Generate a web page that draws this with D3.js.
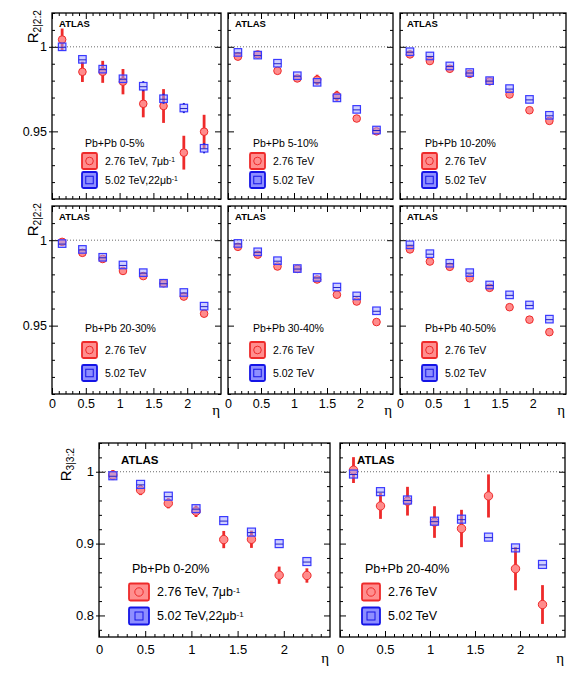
<!DOCTYPE html>
<html>
<head>
<meta charset="utf-8">
<script src="https://cdn.jsdelivr.net/npm/d3@7"></script>
<style>
body { margin: 0; background: #fff; }
svg { font-family: "Liberation Sans", Arial, Helvetica, sans-serif; }
</style>
</head>
<body>
<svg id="chart" width="569" height="680"></svg>
<script>
/* data */
var eta = [0.15, 0.45, 0.75, 1.05, 1.35, 1.65, 1.95, 2.25];
var xTicks = [0, 0.5, 1, 1.5, 2];
var yTicks22 = [0.95, 1];
var yTicks33 = [0.8, 0.9, 1];

var cent22 = ["0-5%", "5-10%", "10-20%", "20-30%", "30-40%", "40-50%"];
var cent33 = ["0-20%", "20-40%"];

var r22_276 = [
  [1.0043, 0.9852, 0.9852, 0.9794, 0.9663, 0.9650, 0.9374, 0.9498],
  [0.9942, 0.9955, 0.9858, 0.9813, 0.9805, 0.9710, 0.9576, 0.9500],
  [0.9955, 0.9916, 0.9870, 0.9840, 0.9796, 0.9718, 0.9625, 0.9562],
  [0.9990, 0.9926, 0.9890, 0.9820, 0.9790, 0.9748, 0.9670, 0.9570],
  [0.9961, 0.9915, 0.9846, 0.9832, 0.9770, 0.9681, 0.9641, 0.9521],
  [0.9946, 0.9875, 0.9844, 0.9777, 0.9721, 0.9608, 0.9535, 0.9462]
];
var r22_276_err = [
  [0.0065, 0.006, 0.0065, 0.0075, 0.008, 0.010, 0.010, 0.010],
  [0.0015, 0.0015, 0.0015, 0.002, 0.003, 0.003, 0.002, 0.002],
  [0.001, 0.001, 0.001, 0.001, 0.001, 0.001, 0.001, 0.001],
  [0.001, 0.001, 0.001, 0.001, 0.001, 0.001, 0.001, 0.001],
  [0.001, 0.001, 0.001, 0.001, 0.001, 0.001, 0.001, 0.001],
  [0.001, 0.001, 0.001, 0.001, 0.0015, 0.002, 0.002, 0.002]
];
var r22_502 = [
  [1.0000, 0.9926, 0.9868, 0.9811, 0.9767, 0.9693, 0.9638, 0.9400],
  [0.9967, 0.9951, 0.9903, 0.9829, 0.9790, 0.9698, 0.9630, 0.9508],
  [0.9971, 0.9946, 0.9887, 0.9848, 0.9800, 0.9753, 0.9689, 0.9595],
  [0.9980, 0.9946, 0.9900, 0.9855, 0.9810, 0.9748, 0.9694, 0.9614],
  [0.9981, 0.9932, 0.9880, 0.9834, 0.9782, 0.9726, 0.9674, 0.9587],
  [0.9973, 0.9921, 0.9865, 0.9810, 0.9738, 0.9680, 0.9621, 0.9538]
];
var r22_502_err = [
  [0.001, 0.001, 0.002, 0.002, 0.003, 0.003, 0.003, 0.003],
  [0.001, 0.001, 0.001, 0.001, 0.001, 0.001, 0.001, 0.001],
  [0.001, 0.001, 0.001, 0.001, 0.001, 0.001, 0.001, 0.001],
  [0.001, 0.001, 0.001, 0.001, 0.001, 0.001, 0.001, 0.001],
  [0.001, 0.001, 0.001, 0.001, 0.001, 0.001, 0.001, 0.001],
  [0.001, 0.001, 0.001, 0.001, 0.001, 0.001, 0.001, 0.001]
];

var r33_276 = [
  [0.9954, 0.9745, 0.9560, 0.9450, 0.9056, 0.9060, 0.8560, 0.8556],
  [1.0023, 0.9524, 0.9590, 0.9300, 0.9210, 0.9663, 0.8650, 0.8152]
];
var r33_276_err = [
  [0.007, 0.007, 0.007, 0.008, 0.012, 0.012, 0.012, 0.010],
  [0.018, 0.018, 0.020, 0.022, 0.026, 0.030, 0.030, 0.027]
];
var r33_502 = [
  [0.9944, 0.9824, 0.9660, 0.9486, 0.9320, 0.9160, 0.9000, 0.8750],
  [0.9968, 0.9723, 0.9607, 0.9312, 0.9340, 0.9090, 0.8940, 0.8710]
];
var r33_502_err = [
  [0.002, 0.002, 0.002, 0.003, 0.002, 0.003, 0.002, 0.002],
  [0.003, 0.002, 0.003, 0.004, 0.004, 0.004, 0.004, 0.004]
];

var svg = d3.select("#chart");
var RED = "#ee2a2a", RED_FILL = "#ff8c8c";
var BLUE = "#3a3aff", BLUE_FILL = "rgba(160,160,255,0.5)";

function fmt(d) { return String(+d.toFixed(2)); }

function sideAxis(g, gen, values, size) {
  g.call(gen.tickValues(values).tickSize(size).tickFormat(""));
  g.select(".domain").remove();
  g.selectAll("line").attr("stroke", "#000").attr("stroke-width", 1);
}

// one panel: frame, ticks, points, legend
function panel(p) {
  var w = p.x1 - p.x0, h = p.y1 - p.y0;
  var g = svg.append("g").attr("transform", "translate(" + p.x0 + "," + p.y0 + ")");
  var x = d3.scaleLinear().domain([0, 2.5]).range([0, w]);
  var y = d3.scaleLinear().domain(p.yDom).range([h, 0]);

  var xMinor = d3.range(0, 25).map(function (i) { return i / 10; }).filter(function (v) { return xTicks.indexOf(v) < 0; });
  var yMinor = d3.range(Math.ceil(p.yDom[0] / p.yMinor), Math.floor(p.yDom[1] / p.yMinor) + 1)
    .map(function (i) { return +(i * p.yMinor).toFixed(3); })
    .filter(function (v) { return p.yMajor.indexOf(v) < 0; });

  // inward ticks on four sides
  sideAxis(g.append("g").attr("transform", "translate(0," + h + ")"), d3.axisBottom(x), xTicks, -6);
  sideAxis(g.append("g").attr("transform", "translate(0," + h + ")"), d3.axisBottom(x), xMinor, -3);
  sideAxis(g.append("g"), d3.axisTop(x), xTicks, -6);
  sideAxis(g.append("g"), d3.axisTop(x), xMinor, -3);
  sideAxis(g.append("g"), d3.axisLeft(y), p.yMajor, -6);
  sideAxis(g.append("g"), d3.axisLeft(y), yMinor, -3);
  sideAxis(g.append("g").attr("transform", "translate(" + w + ",0)"), d3.axisRight(y), p.yMajor, -6);
  sideAxis(g.append("g").attr("transform", "translate(" + w + ",0)"), d3.axisRight(y), yMinor, -3);

  if (p.yLabels) {
    var ya = g.append("g").call(d3.axisLeft(y).tickValues(p.yMajor).tickSize(3).tickPadding(2).tickFormat(fmt));
    ya.select(".domain").remove();
    ya.selectAll("line").attr("stroke", "#000");
    ya.selectAll("text").attr("font-size", p.tickFont).attr("fill", "#000").attr("font-family", null);
  }
  if (p.xLabels) {
    var xa = g.append("g").attr("transform", "translate(0," + h + ")")
      .call(d3.axisBottom(x).tickValues(xTicks).tickSize(0).tickPadding(p.xPad).tickFormat(fmt));
    xa.select(".domain").remove();
    xa.selectAll("text").attr("font-size", p.tickFont).attr("fill", "#000").attr("font-family", null);
    g.append("text").attr("x", w - 1).attr("y", h + p.etaDy)
      .attr("text-anchor", "end").attr("font-size", 15)
      .attr("font-family", "'Liberation Serif', 'DejaVu Serif', serif").text("η");
  }

  // reference line at 1
  g.append("line").attr("x1", 0).attr("x2", w).attr("y1", y(1)).attr("y2", y(1))
    .attr("stroke", "#444").attr("stroke-width", 0.8).attr("stroke-dasharray", "1,2");

  var red = eta.map(function (e, i) { return { e: e, v: p.red[i], err: p.redErr[i] }; });
  var blue = eta.map(function (e, i) { return { e: e, v: p.blue[i], err: p.blueErr[i] }; });
  var rr = p.r, hs = p.sq / 2;

  g.selectAll(".rbar").data(red).enter().append("line")
    .attr("x1", function (d) { return x(d.e); }).attr("x2", function (d) { return x(d.e); })
    .attr("y1", function (d) { return y(d.v + d.err); }).attr("y2", function (d) { return y(d.v - d.err); })
    .attr("stroke", RED).attr("stroke-width", 2.8);
  g.selectAll(".rpt").data(red).enter().append("circle")
    .attr("cx", function (d) { return x(d.e); }).attr("cy", function (d) { return y(d.v); })
    .attr("r", rr).attr("fill", RED_FILL).attr("stroke", RED).attr("stroke-width", 1);

  g.selectAll(".bpt").data(blue).enter().append("rect")
    .attr("x", function (d) { return x(d.e) - hs; }).attr("y", function (d) { return y(d.v) - hs; })
    .attr("width", p.sq).attr("height", p.sq)
    .attr("fill", BLUE_FILL).attr("stroke", BLUE).attr("stroke-width", 1.2);
  g.selectAll(".bmid").data(blue).enter().append("line")
    .attr("x1", function (d) { return x(d.e) - hs; }).attr("x2", function (d) { return x(d.e) + hs; })
    .attr("y1", function (d) { return y(d.v) + 0.5; }).attr("y2", function (d) { return y(d.v) + 0.5; })
    .attr("stroke", "#2424c8").attr("stroke-width", 1);
  g.selectAll(".bbar").data(blue.filter(function (d) { return y(d.v - d.err) - y(d.v + d.err) > p.sq; }))
    .enter().append("g").each(function (d) {
      var s = d3.select(this);
      s.append("line").attr("x1", x(d.e)).attr("x2", x(d.e)).attr("y1", y(d.v + d.err)).attr("y2", y(d.v) - hs)
        .attr("stroke", "#2020d0").attr("stroke-width", 2);
      s.append("line").attr("x1", x(d.e)).attr("x2", x(d.e)).attr("y1", y(d.v) + hs).attr("y2", y(d.v - d.err))
        .attr("stroke", "#2020d0").attr("stroke-width", 2);
    });

  // frame
  g.append("rect").attr("width", w).attr("height", h).attr("fill", "none")
    .attr("stroke", "#000").attr("stroke-width", 1.3);

  g.append("text").attr("x", p.atlas[0]).attr("y", p.atlas[1]).attr("font-weight", "bold")
    .attr("font-size", p.atlasFont).text("ATLAS");

  // legend
  var L = p.leg;
  g.append("text").attr("x", L.box + 3).attr("y", h - L.head).attr("dy", "0.35em")
    .attr("font-size", L.font).text("Pb+Pb " + p.cent);
  [[L.red, RED, "#ff7a7a", p.lab1, "c"], [L.blue, "#1414e6", "#7a7aff", p.lab2, "s"]].forEach(function (e) {
    var cy = h - e[0];
    g.append("rect").attr("x", L.box).attr("y", cy - L.bh / 2).attr("width", L.bw).attr("height", L.bh)
      .attr("rx", 1.5).attr("fill", e[2]).attr("fill-opacity", 0.85).attr("stroke", e[1]).attr("stroke-width", 1.8);
    if (e[4] === "c") {
      g.append("circle").attr("cx", L.box + L.bw / 2).attr("cy", cy).attr("r", rr)
        .attr("fill", "none").attr("stroke", e[1]).attr("stroke-width", 1);
    } else {
      g.append("rect").attr("x", L.box + L.bw / 2 - hs).attr("y", cy - hs).attr("width", p.sq).attr("height", p.sq)
        .attr("fill", "none").attr("stroke", e[1]).attr("stroke-width", 1);
    }
    var t = g.append("text").attr("x", L.box + L.bw + L.gap).attr("y", cy).attr("dy", "0.35em")
      .attr("font-size", L.font).text(e[3][0]);
    if (e[3][1]) {
      t.append("tspan").attr("dy", "-0.45em").attr("font-size", L.font * 0.65).text(e[3][1]);
    }
  });
}

function yTitle(x, yEnd, sub, size) {
  var t = svg.append("text").attr("transform", "translate(" + x + "," + yEnd + ") rotate(-90)")
    .attr("text-anchor", "end").attr("font-size", size).text("R");
  t.append("tspan").attr("dy", "0.3em").attr("font-size", size * 0.68).text(sub);
}

var cols = [[52, 221], [228, 393], [400, 566]];
var rows = [[13, 199], [206, 394]];
var legTop = [
  { head: 56, red: 38, blue: 19 },
  { head: 66, red: 44, blue: 21 }
];

cent22.forEach(function (c, i) {
  var r = Math.floor(i / 3), k = i % 3;
  var lum = (i === 0);
  panel({
    x0: cols[k][0], x1: cols[k][1], y0: rows[r][0], y1: rows[r][1],
    yDom: [0.91, 1.02], yMajor: yTicks22, yMinor: 0.01,
    yLabels: k === 0, xLabels: r === 1, tickFont: 12.5, xPad: 5.5, etaDy: 21,
    red: r22_276[i], redErr: r22_276_err[i], blue: r22_502[i], blueErr: r22_502_err[i],
    r: 3.8, sq: 7.5, atlas: [7, 13.5], atlasFont: 9.5, cent: c,
    lab1: lum ? ["2.76 TeV, 7μb", "-1"] : ["2.76 TeV"],
    lab2: lum ? ["5.02 TeV,22μb", "-1"] : ["5.02 TeV"],
    leg: {
      box: (k === 0 ? 30 : 22), bw: 15, bh: 16, gap: 8, font: 10.5,
      head: legTop[r].head, red: legTop[r].red, blue: legTop[r].blue
    }
  });
});

var bcols = [[99, 330], [340, 565]];
cent33.forEach(function (c, i) {
  var lum = (i === 0);
  panel({
    x0: bcols[i][0], x1: bcols[i][1], y0: 443, y1: 637,
    yDom: [0.77, 1.04], yMajor: yTicks33, yMinor: 0.02,
    yLabels: i === 0, xLabels: true, tickFont: 13, xPad: 7.5, etaDy: 26,
    red: r33_276[i], redErr: r33_276_err[i], blue: r33_502[i], blueErr: r33_502_err[i],
    r: 4.2, sq: 8, atlas: (i === 0 ? [22, 21] : [17, 21]), atlasFont: 11.5, cent: c,
    lab1: lum ? ["2.76 TeV, 7μb", "-1"] : ["2.76 TeV"],
    lab2: lum ? ["5.02 TeV,22μb", "-1"] : ["5.02 TeV"],
    leg: {
      box: (i === 0 ? 30 : 22), bw: (i === 0 ? 20 : 18), bh: 17, gap: 8, font: 12.5,
      head: 68, red: 45, blue: 21
    }
  });
});

yTitle(38, 10, "2|2:2", 15);
yTitle(38, 203, "2|2:2", 15);
yTitle(71, 448, "3|3:2", 15);
</script>
</body>
</html>
